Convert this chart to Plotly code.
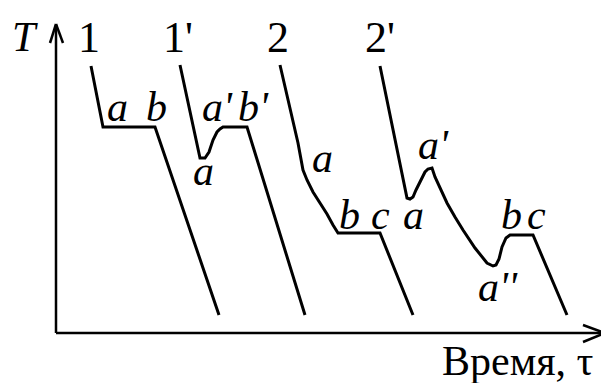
import plotly.graph_objects as go

# кривые охлаждения (время, температура) в условных единицах
t1 = [35, 47, 99, 163]
T1 = [267, 206, 206, 18]

t1p = [124, 144, 149, 153, 157, 161, 164, 167, 191, 249]
T1p = [268, 175, 175, 181, 193, 201, 204, 206, 206, 18]

t2 = [224, 242, 247, 251, 257, 264, 271, 277, 282, 324, 357]
T2 = [268, 190, 163, 153, 141, 130, 119, 108, 100, 100, 18]

t2p = [324, 351, 354, 357, 360, 364, 369, 372, 376, 379, 384, 391, 399, 407, 419, 431, 437, 440, 443, 446, 450, 454, 477, 511]
T2p = [267, 135, 134, 136, 143, 151, 161, 164, 165, 156, 145, 130, 116, 103, 85, 70, 67, 68, 74, 86, 95, 98, 98, 18]

curves = [(t1, T1), (t1p, T1p), (t2, T2), (t2p, T2p)]

fig = go.Figure()
for t, T in curves:
    fig.add_trace(go.Scatter(x=t, y=T, mode='lines',
                             line=dict(color='black', width=3),
                             hoverinfo='skip', showlegend=False))

# оси со стрелками
ax = dict(type='line', xref='x', yref='y', line=dict(color='black', width=2.5))
fig.add_shape(x0=0, y0=0, x1=0, y1=308, **ax)
fig.add_shape(x0=0, y0=0, x1=549, y1=0, **ax)
fig.add_shape(x0=-6, y0=290, x1=0, y1=309, **ax)
fig.add_shape(x0=7, y0=290, x1=0, y1=309, **ax)
fig.add_shape(x0=527, y0=8, x1=549, y1=0, **ax)
fig.add_shape(x0=527, y0=-9, x1=549, y1=0, **ax)

serif = 'Liberation Serif'
labels = [
    ('T', -31, 296, True, 42),
    ('1', 33, 296, False, 44),
    ("1'", 122, 296, False, 44),
    ('2', 222, 296, False, 44),
    ("2'", 324, 296, False, 44),
    ('a', 61, 226, True, 42),
    ('b', 100, 226, True, 42),
    ("a'", 161, 226, True, 42),
    ("b'", 197, 226, True, 42),
    ('a', 147, 162, True, 42),
    ('a', 266, 175, True, 42),
    ('b', 293, 118, True, 42),
    ('c', 324, 118, True, 42),
    ('a', 357, 118, True, 42),
    ("a'", 377, 188, True, 42),
    ('b', 455, 118, True, 42),
    ('c', 480, 118, True, 42),
    ("a''", 442, 46, True, 42),
    ('Время, τ', 461, -28, False, 42),
]
for txt, x, y, it, sz in labels:
    fig.add_annotation(x=x, y=y, text=txt, showarrow=False,
                       xanchor='center', yanchor='middle',
                       font=dict(family=serif, size=sz, color='black',
                                 style='italic' if it else 'normal'))

fig.update_xaxes(visible=False, range=[-48, 553])
fig.update_yaxes(visible=False, range=[-50, 325])
fig.update_layout(width=601, height=375, margin=dict(l=0, r=0, t=0, b=0),
                  plot_bgcolor='white', paper_bgcolor='white')

fig.write_html("out.html")
